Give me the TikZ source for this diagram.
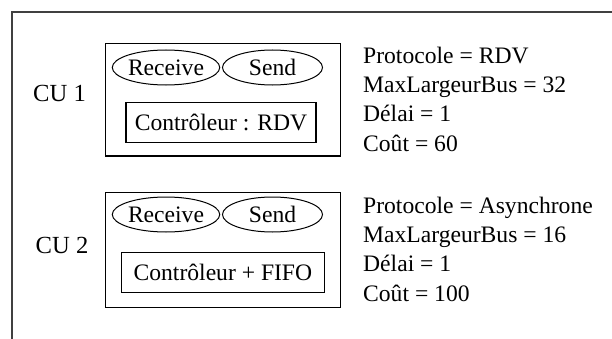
\documentclass[tikz,border=0pt]{standalone}
\usepackage{fontspec}
\setmainfont{Liberation Serif}
\usetikzlibrary{shapes.geometric}
\begin{document}
\begin{tikzpicture}[x=1pt,y=1pt,
  txt/.style={font=\fontsize{23.6}{28}\selectfont, inner sep=0pt},
  culabel/.style={font=\fontsize{24.6}{28}\selectfont, inner sep=0pt, anchor=base},
  cubox/.style={draw, line width=1.1pt, rectangle, inner sep=0pt},
  ctrlbox/.style={draw, line width=1.1pt, rectangle, inner sep=0pt, minimum height=40pt, font=\fontsize{23.6}{28}\selectfont},
  port/.style={draw, line width=1pt, ellipse, inner sep=0pt, minimum width=100pt, minimum height=35pt, font=\fontsize{23.6}{28}\selectfont},
  prop/.style={txt, anchor=base west},
  frameline/.style={draw=black!75, line width=1.4pt}
]
\useasboundingbox (0,0) rectangle (612,338);
% outer frame (cut at right and bottom)
\coordinate (fbl) at (12,-5);
\coordinate (ftl) at (12,326);
\coordinate (ftr) at (620,326);
\draw[frameline] (fbl) -- (ftl) -- (ftr);

% CU 1
\node[cubox, minimum width=235.1pt, minimum height=112.3pt] (box1) at (222.85,238.15) {};
\node[port] (recv1) at (166,270.5) {Receive};
\node[port] (send1) at (272.5,270.5) {Send};
\node[ctrlbox, minimum width=190pt] (ctrl1) at (221,215.3) {Contrôleur : RDV};
\node[culabel] (cu1) at (59.5,236.3) {CU 1};
\node[prop] (p1a) at (363,274.7) {Protocole = RDV};
\node[prop] (p1b) at (363,245.7) {MaxLargeurBus = 32};
\node[prop] (p1c) at (363,216.3) {Délai = 1};
\node[prop] (p1d) at (363,186.3) {Coût = 60};

% CU 2
\node[cubox, minimum width=235.1pt, minimum height=115pt] (box2) at (222.85,87.8) {};
\node[port] (recv2) at (166,123.5) {Receive};
\node[port] (send2) at (272.5,123.5) {Send};
\node[ctrlbox, minimum width=203pt] (ctrl2) at (222.9,65.7) {Contrôleur + FIFO};
\node[culabel] (cu2) at (62,84.7) {CU 2};
\node[prop] (p2a) at (363,124.7) {Protocole = Asynchrone};
\node[prop] (p2b) at (363,95.7) {MaxLargeurBus = 16};
\node[prop] (p2c) at (363,66.3) {Délai = 1};
\node[prop] (p2d) at (363,37) {Coût = 100};
\end{tikzpicture}
\end{document}
